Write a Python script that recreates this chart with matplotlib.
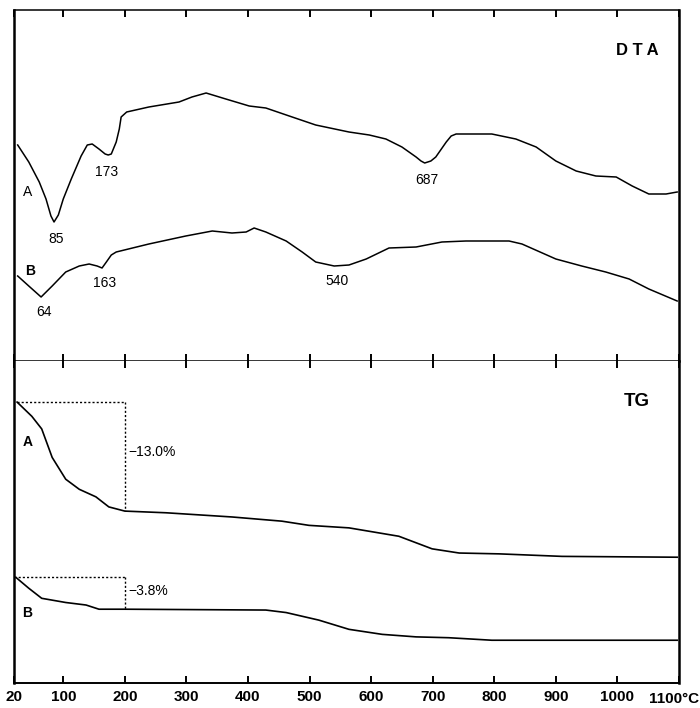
import matplotlib
matplotlib.use("Agg")
import matplotlib.pyplot as plt

plt.rcParams['font.family'] = ['Liberation Sans', 'DejaVu Sans']

# --- DTA traces (temperature in degC, signal in arbitrary units, stacked) ---
dta_a_temp = [26, 44, 61, 72, 80, 85, 92, 100, 113, 129, 139, 147, 158, 168,
              173, 178, 186, 191, 194, 203, 239, 288, 309, 332, 364, 402, 429,
              467, 510, 564, 597, 624, 650, 673, 681, 687, 697, 705, 722, 730,
              738, 796, 835, 868, 900, 933, 965, 998, 1024, 1051, 1079, 1097]
dta_a_val = [21.6, 19.9, 17.9, 16.2, 14.5, 13.9, 14.6, 16.2, 18.2, 20.5, 21.6,
             21.7, 21.2, 20.7, 20.6, 20.7, 21.9, 23.2, 24.4, 24.9, 25.4, 25.9,
             26.4, 26.8, 26.2, 25.5, 25.3, 24.5, 23.6, 22.9, 22.6, 22.2, 21.4,
             20.4, 20.0, 19.8, 20.0, 20.4, 21.9, 22.5, 22.7, 22.7, 22.2, 21.4,
             20.0, 19.0, 18.5, 18.4, 17.5, 16.7, 16.7, 16.9]

dta_b_temp = [26, 44, 64, 82, 104, 126, 142, 155, 163, 170, 178, 186, 239, 299,
              342, 374, 397, 410, 429, 462, 488, 510, 540, 564, 592, 629, 673,
              715, 754, 824, 845, 900, 942, 981, 1019, 1051, 1097]
dta_b_val = [8.5, 7.5, 6.4, 7.5, 8.9, 9.5, 9.7, 9.5, 9.3, 9.9, 10.6, 10.9, 11.7,
             12.5, 13.0, 12.8, 12.9, 13.3, 12.9, 12.0, 10.9, 9.9, 9.5, 9.6,
             10.2, 11.3, 11.4, 11.9, 12.0, 12.0, 11.7, 10.2, 9.5, 8.9, 8.2, 7.2,
             6.0]

# --- TG traces (mass change, %) ---
tg_a_temp = [25, 49, 65, 82, 104, 126, 153, 174, 200, 267, 374, 455, 499, 564,
             645, 699, 743, 808, 910, 1097]
tg_a_val = [0.0, -1.7, -3.2, -6.6, -9.2, -10.4, -11.3, -12.5, -13.0, -13.2,
            -13.7, -14.2, -14.7, -15.0, -16.0, -17.5, -18.0, -18.1, -18.4, -18.5]

tg_b_temp = [23, 44, 65, 104, 137, 158, 200, 429, 462, 515, 564, 618, 673, 726,
             796, 1097]
tg_b_val = [0.0, -1.3, -2.5, -3.0, -3.3, -3.8, -3.8, -3.9, -4.2, -5.1, -6.2,
            -6.8, -7.1, -7.2, -7.5, -7.5]
tg_b_offset = -20.9

tg_a_step = -13.0
tg_b_step = -3.8
step_end = 200

dta_a_peaks = [85, 173, 687]
dta_b_peaks = [64, 163, 540]

x_ticks = [20, 100, 200, 300, 400, 500, 600, 700, 800, 900, 1000, 1100]
x_labels = ['20', '100', '200', '300', '400', '500', '600', '700', '800',
            '900', '1000', '']

fig = plt.figure(figsize=(7.0, 7.08), dpi=100)
W, H = 700, 708
left, right = 14 / W, 679 / W
ax_dta = fig.add_axes([left, (H - 361) / H, right - left, (361 - 10) / H])
ax_tg = fig.add_axes([left, (H - 683) / H, right - left, (683 - 361) / H])

lc = 'black'
for ax in (ax_dta, ax_tg):
    ax.set_xlim(20, 1100)
    ax.set_xticks(x_ticks)
    ax.set_yticks([])
    ax.spines['left'].set_linewidth(1.8)
    ax.spines['right'].set_linewidth(1.8)

ax_dta.set_ylim(0, 35.1)
ax_tg.set_ylim(4.9 - 38.4, 4.9)

ax_dta.spines['top'].set_linewidth(1.1)
ax_dta.spines['bottom'].set_linewidth(1.1)
ax_tg.spines['top'].set_visible(False)
ax_tg.spines['bottom'].set_linewidth(1.4)

# inward ticks on every border; on the shared border they meet and cross it
ax_dta.tick_params(axis='x', top=True, bottom=True, direction='in', length=5,
                   width=1.4, labelbottom=False)
ax_tg.tick_params(axis='x', top=True, bottom=True, direction='in', length=5,
                  width=1.4, labelsize=11, pad=5)
ax_tg.set_xticklabels(x_labels, fontweight='bold')

# DTA curves
ax_dta.plot(dta_a_temp, dta_a_val, color=lc, lw=1.1)
ax_dta.plot(dta_b_temp, dta_b_val, color=lc, lw=1.1)

pk = dict(fontsize=10, ha='center', va='center', color=lc)
for t in dta_a_peaks:
    v = dta_a_val[dta_a_temp.index(t)]
    ax_dta.text(t + (-2 if t == 173 else 4), v - 1.7, str(t), **pk)
for t in dta_b_peaks:
    v = dta_b_val[dta_b_temp.index(t)]
    ax_dta.text(t + 4, v - 1.5, str(t), **pk)

ax_dta.text(42, 16.9, 'A', fontsize=10, ha='center', va='center')
ax_dta.text(47, 9.0, 'B', fontsize=10, ha='center', va='center', fontweight='bold')
ax_dta.text(0.937, 0.885, 'D T A', transform=ax_dta.transAxes, fontsize=12,
            fontweight='bold', ha='center', va='center')

# TG curves
ax_tg.plot(tg_a_temp, tg_a_val, color=lc, lw=1.2)
ax_tg.plot(tg_b_temp, [v + tg_b_offset for v in tg_b_val], color=lc, lw=1.2)

dot = dict(color=lc, lw=1.0, ls=(0, (1.5, 1.5)))
ax_tg.plot([tg_a_temp[0], step_end], [0, 0], **dot)
ax_tg.plot([step_end, step_end], [0, tg_a_step], **dot)
ax_tg.plot([20, step_end], [tg_b_offset, tg_b_offset], **dot)
ax_tg.plot([step_end, step_end], [tg_b_offset, tg_b_offset + tg_b_step], **dot)

ax_tg.text(step_end + 6, tg_a_step / 2 + 0.6, '\u221213.0%', fontsize=10,
           ha='left', va='center')
ax_tg.text(step_end + 6, tg_b_offset + tg_b_step / 2 + 0.3, '\u22123.8%',
           fontsize=10, ha='left', va='center')
ax_tg.text(42, -4.7, 'A', fontsize=10, ha='center', va='center', fontweight='bold')
ax_tg.text(42, -25.1, 'B', fontsize=10, ha='center', va='center', fontweight='bold')
ax_tg.text(0.937, 0.875, 'TG', transform=ax_tg.transAxes, fontsize=13.5,
           fontweight='bold', ha='center', va='center')

fig.text(0.999, (H - 699) / H, '1100\u00b0C', fontsize=11, fontweight='bold',
         ha='right', va='center')

fig.savefig('out.png', dpi=100, facecolor='white')
